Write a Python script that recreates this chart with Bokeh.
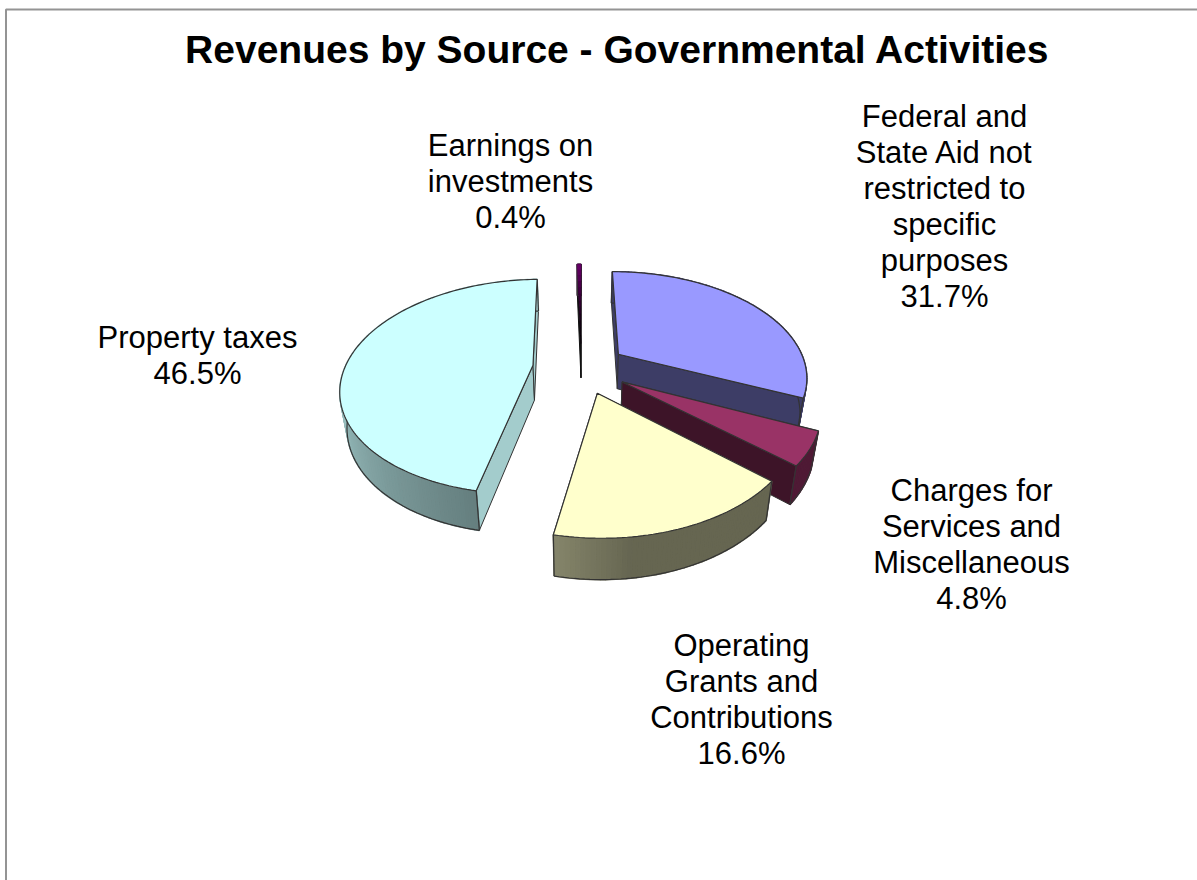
from math import sin, cos, pi

from bokeh.core.properties import value
from bokeh.embed import file_html
from bokeh.models import Range1d
from bokeh.plotting import figure
from bokeh.resources import INLINE

TITLE = "Revenues by Source - Governmental Activities"

# Revenue shares, clockwise from twelve o'clock
sources = ["Federal", "Charges", "Operating", "Property", "Earnings"]
shares = [31.7, 4.8, 16.6, 46.5, 0.4]
label_lines = [
    ["Federal and", "State Aid not", "restricted to", "specific", "purposes"],
    ["Charges for", "Services and", "Miscellaneous"],
    ["Operating", "Grants and", "Contributions"],
    ["Property taxes"],
    ["Earnings on", "investments"],
]
top_colors = ["#9999ff", "#993366", "#ffffcc", "#ccffff", "#660066"]
explode = [0.24, 0.25, 0.25, 0.26, 0.24]
# Rim brightness: start value, end value, and the stretch of the arc where it changes
rim_shade = [(0.40, 0.40, 0, 1), (0.52, 0.52, 0, 1), (0.40, 0.52, 0.7, 1),
             (0.50, 0.82, 0, 0.5), (0.4, 0.4, 0, 1)]
cut_shade = [0.40, 0.40, 0.40, 0.80, 0.40]

label_anchor = [(944, 116), (971, 490), (741, 645), (197, 337), (510, 145)]
LINE_STEP = 36

# Projection of the pie plane onto the page
CX, CY = 581.0, 367.0
RX, RY, PERSP = 188.0, 103.9, 0.20
DEPTH, SHRINK = 35.0, 0.97
FONT = "Liberation Sans"


def project(u, v):
    s = 1.0 / (1.0 + PERSP * v)
    return CX + RX * u * s, CY - RY * v * s, s


def lower(u, v):
    x, y, s = project(u, v)
    return CX + (x - CX) * SHRINK, CY + (y - CY) * SHRINK + DEPTH * s


def shade(color, f):
    r, g, b = (int(color[i:i + 2], 16) for i in (1, 3, 5))
    return "#%02x%02x%02x" % (int(r * f), int(g * f), int(b * f))


p = figure(width=1197, height=880, output_backend="svg", toolbar_location=None,
           x_range=Range1d(0, 1197), y_range=Range1d(880, 0),
           min_border=0, outline_line_color=None)
p.axis.visible = False
p.grid.visible = False

# Page frame
p.line([5.5, 5.5, 1197], [880, 9, 9], line_color="#949494", line_width=2)

# Slice geometry
slices = {}
start = 0.0
for name, share, e in zip(sources, shares, explode):
    sweep = share * 2 * pi / 100
    mid = start + sweep / 2
    ax, ay = e * sin(mid), e * cos(mid)
    n = max(4, int(share * 3))
    arc = [(ax + sin(start + sweep * i / n), ay + cos(start + sweep * i / n)) for i in range(n + 1)]
    slices[name] = ((ax, ay), arc)
    start += sweep

EDGE = "#333333"

# Paint from the back of the pie to the front
order = ["Earnings", "Federal", "Property", "Charges", "Operating"]
for name in order:
    i = sources.index(name)
    apex, arc = slices[name]
    base = top_colors[i]
    cut = shade(base, cut_shade[i])
    sliver = name == "Earnings"
    # cut faces along both radii
    for end in (arc[0], arc[-1]):
        corners = [project(*apex)[:2], project(*end)[:2], lower(*end), lower(*apex)]
        p.patch([c[0] for c in corners], [c[1] for c in corners],
                fill_color="#111111" if sliver else cut,
                line_color="#111111" if sliver else EDGE, line_width=1)
    # rim, in narrow overlapping strips so its brightness can change along the arc
    s0, s1, f0, f1 = rim_shade[i]
    for k in range(len(arc) - 1):
        t = k / (len(arc) - 2 or 1)
        t = min(1.0, max(0.0, (t - f0) / (f1 - f0)))
        col = shade(base, s0 + (s1 - s0) * t)
        corners = [project(*arc[k])[:2], project(*arc[k + 1])[:2], lower(*arc[k + 1]), lower(*arc[k])]
        p.patch([c[0] for c in corners], [c[1] for c in corners],
                fill_color=col, line_color=col, line_width=1.6)
    p.line([lower(*a)[0] for a in arc], [lower(*a)[1] for a in arc], line_color=EDGE, line_width=1.2)
    # seam where the outer wall meets a cut face
    for end in (arc[0], arc[-1]):
        a, b = project(*end), lower(*end)
        p.line([a[0], b[0]], [a[1], b[1]], line_color=EDGE, line_width=1.2)
    # top face
    if sliver:
        # the thin wedge fades to near black towards its point
        steps = 12
        for k in range(steps):
            near = 1 - k / steps
            far = 1 - (k + 1) / steps
            pts = []
            for w, arc_pts in ((near, arc), (far, arc[::-1])):
                for a in arc_pts:
                    pts.append(project(apex[0] + (a[0] - apex[0]) * w, apex[1] + (a[1] - apex[1]) * w)[:2])
            col = shade(base, max(0.12, 1 - 1.1 * k / steps))
            p.patch([c[0] for c in pts], [c[1] for c in pts], fill_color=col, line_color=col, line_width=0.5)
    else:
        outline = [project(*apex)[:2]] + [project(*a)[:2] for a in arc]
        p.patch([c[0] for c in outline], [c[1] for c in outline],
                fill_color=base, line_color=EDGE, line_width=1.2)

p.text([617], [49], text=[TITLE], text_font=value(FONT), text_font_style="bold",
       text_font_size="39px", text_align="center", text_baseline="middle", text_color="#000000")

for lines, share, (lx, ly) in zip(label_lines, shares, label_anchor):
    rows = lines + [f"{share:.1f}%"]
    p.text([lx] * len(rows), [ly + LINE_STEP * j for j in range(len(rows))], text=rows,
           text_font=value(FONT), text_font_size="31px", text_align="center",
           text_baseline="middle", text_color="#000000")

open("out.html", "w").write(file_html(p, INLINE))
